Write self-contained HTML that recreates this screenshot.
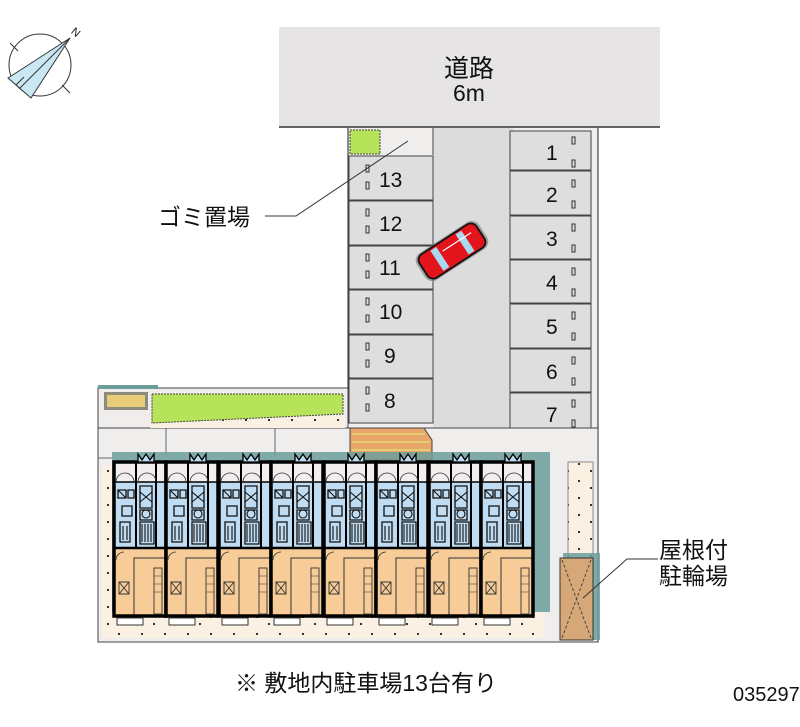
<!DOCTYPE html>
<html><head><meta charset="utf-8"><style>
html,body{margin:0;padding:0;background:#fff;width:800px;height:727px;overflow:hidden}
text{font-family:"Liberation Sans","Noto Sans CJK JP",sans-serif;fill:#111}
</style></head><body>
<svg width="800" height="727" viewBox="0 0 800 727" xmlns="http://www.w3.org/2000/svg">
<defs>
<g id="unit">
  <rect x="0" y="0" width="52" height="20" fill="#f2eeee"/>
  <rect x="0" y="20" width="52" height="66" fill="#bfdcf2"/>
  <rect x="0" y="86" width="52" height="68" fill="#f7cc98"/>
  <rect x="20" y="96" width="32" height="58" fill="#f7cc98" stroke="#333" stroke-width="1"/>
  <rect x="0" y="0" width="52" height="154" fill="none" stroke="#000" stroke-width="3.5"/>
  <rect x="22" y="0" width="20" height="86" fill="none" stroke="#000" stroke-width="2"/>
  <line x1="0" y1="20" x2="52" y2="20" stroke="#000" stroke-width="1.5"/>
  <line x1="0" y1="86" x2="52" y2="86" stroke="#000" stroke-width="2.5"/>
  <path d="M2 20 A9 9 0 0 1 20 20 M24 20 A9 9 0 0 1 42 20" fill="none" stroke="#333" stroke-width="0.8"/>
  <path d="M4 28h8v8h-8zM14 28h6v8h-6zM26 24h12v22h-12zM8 44h10v10h-10zM26 48h12v10h-12zM26 60h14v22h-14zM6 60h10v20h-10z" fill="none" stroke="#111" stroke-width="1.3"/>
  <path d="M28 62v18M31 62v18M34 62v18M37 62v18M26 30l12 10M26 40l12-10M4 28l8 8M9 64v14M13 64v14" stroke="#111" stroke-width="1.1"/>
  <circle cx="32" cy="52" r="4" fill="none" stroke="#111" stroke-width="1.1"/>
  <path d="M5 120h10v12h-10z M5 120l10 12 M5 132l10-12" fill="none" stroke="#333" stroke-width="0.9"/>
  <path d="M2 98 A8 8 0 0 1 10 90" fill="none" stroke="#333" stroke-width="0.8"/>
  <rect x="40" y="106" width="8" height="46" fill="none" stroke="#333" stroke-width="0.9"/>
  <path d="M40 114h8M40 122h8M40 130h8" stroke="#333" stroke-width="0.6"/>
  <rect x="3" y="156" width="26" height="7" fill="#fff" stroke="#333" stroke-width="1"/>
  <path d="M24 -8l4 6 4-6 4 6 4-6v8h-16z" fill="#bfdcf2" stroke="#000" stroke-width="1.3"/>
</g>
<pattern id="dots" width="23" height="17" patternUnits="userSpaceOnUse">
  <rect width="23" height="17" fill="#fbf1e2"/>
  <rect x="3" y="4" width="2" height="2" fill="#333"/><rect x="15" y="11" width="2" height="2" fill="#333"/>
</pattern>
</defs>

<!-- compass -->
<circle cx="40" cy="65" r="31" fill="none" stroke="#333" stroke-width="1"/>
<polygon points="70,38 8,78 31,98" fill="#c9e8f4" stroke="#333" stroke-width="1"/>
<line x1="70" y1="38" x2="20" y2="88" stroke="#333" stroke-width="1"/>
<path d="M10 43l8 8M62 85l8 8M16 85l8-8" stroke="#333" stroke-width="1"/>
<text x="72" y="36" font-size="11" transform="rotate(40 76 32)">N</text>

<!-- road -->
<rect x="279" y="27" width="381" height="100" fill="#e7e4e6"/>
<line x1="279" y1="127" x2="660" y2="127" stroke="#333" stroke-width="1.5"/>
<text x="469" y="77" font-size="25" text-anchor="middle">道路</text>
<text x="469" y="101" font-size="23" text-anchor="middle">6m</text>

<!-- lot -->
<rect x="348" y="128" width="250" height="300" fill="#f0eded"/>
<rect x="433" y="128" width="80" height="305" fill="#dcdcdc"/>
<line x1="348" y1="128" x2="348" y2="390" stroke="#444" stroke-width="1.2"/>
<line x1="598" y1="128" x2="598" y2="642" stroke="#444" stroke-width="1.2"/>
<rect x="350" y="130" width="30" height="24" fill="#b6e35a" stroke="#444" stroke-dasharray="2 1"/>
<line x1="433" y1="128" x2="433" y2="155" stroke="#444"/>

<!-- left stalls -->
<g fill="#dedede" stroke="#444" stroke-width="1">
<rect x="349" y="156" width="84" height="44"/><rect x="349" y="201" width="84" height="44"/>
<rect x="349" y="246" width="84" height="43"/><rect x="349" y="290" width="84" height="44"/>
<rect x="349" y="335" width="84" height="43"/><rect x="349" y="379" width="84" height="44"/>
</g>
<g font-size="21">
<text x="379" y="187">13</text><text x="379" y="231">12</text><text x="379" y="275">11</text>
<text x="379" y="319">10</text><text x="384" y="363">9</text><text x="384" y="408">8</text>
</g>
<g fill="none" stroke="#333" stroke-width="1">
<rect x="366" y="165" width="3" height="7"/><rect x="366" y="182" width="3" height="7"/>
<rect x="366" y="209" width="3" height="7"/><rect x="366" y="226" width="3" height="7"/>
<rect x="366" y="254" width="3" height="7"/><rect x="366" y="271" width="3" height="7"/>
<rect x="366" y="298" width="3" height="7"/><rect x="366" y="315" width="3" height="7"/>
<rect x="366" y="343" width="3" height="7"/><rect x="366" y="360" width="3" height="7"/>
<rect x="366" y="387" width="3" height="7"/><rect x="366" y="404" width="3" height="7"/>
</g>

<!-- right stalls -->
<g fill="#dedede" stroke="#444" stroke-width="1">
<rect x="510" y="131" width="81" height="39"/><rect x="510" y="171" width="81" height="44"/>
<rect x="510" y="216" width="81" height="43"/><rect x="510" y="260" width="81" height="43"/>
<rect x="510" y="304" width="81" height="44"/><rect x="510" y="349" width="81" height="43"/>
<rect x="510" y="393" width="81" height="40"/>
</g>
<g font-size="21">
<text x="546" y="160">1</text><text x="546" y="202">2</text><text x="546" y="246">3</text>
<text x="546" y="290">4</text><text x="546" y="334">5</text><text x="546" y="379">6</text><text x="546" y="422">7</text>
</g>
<g fill="none" stroke="#333" stroke-width="1">
<rect x="572" y="137" width="3" height="7"/><rect x="572" y="160" width="3" height="7"/>
<rect x="572" y="180" width="3" height="7"/><rect x="572" y="201" width="3" height="7"/>
<rect x="572" y="224" width="3" height="7"/><rect x="572" y="245" width="3" height="7"/>
<rect x="572" y="268" width="3" height="7"/><rect x="572" y="289" width="3" height="7"/>
<rect x="572" y="312" width="3" height="7"/><rect x="572" y="333" width="3" height="7"/>
<rect x="572" y="357" width="3" height="7"/><rect x="572" y="378" width="3" height="7"/>
<rect x="572" y="400" width="3" height="7"/><rect x="572" y="420" width="3" height="7"/>
</g>

<!-- car -->
<g transform="translate(452 251) rotate(-33)">
<rect x="-37" y="-16" width="74" height="32" rx="9" fill="#777" opacity="0.6"/>
<rect x="-34" y="-14" width="68" height="28" rx="7" fill="#e3141b" stroke="#111" stroke-width="1.8"/>
<rect x="-18" y="-12" width="7" height="24" fill="#a9d9ee"/>
<rect x="12" y="-12" width="7" height="24" fill="#a9d9ee"/>
<line x1="-8" y1="-5" x2="26" y2="-5" stroke="#fff" stroke-width="1.2"/>
</g>

<!-- lower site -->
<rect x="98" y="388" width="250" height="40" fill="#f0eded" stroke="#444" stroke-width="1"/>
<rect x="98" y="428" width="500" height="214" fill="#f0eded" stroke="#444" stroke-width="1"/>
<rect x="98" y="385" width="60" height="4" fill="#6b9e9a"/>
<rect x="102" y="466" width="10" height="172" fill="url(#dots)"/>
<rect x="102" y="612" width="442" height="26" fill="url(#dots)"/>
<rect x="568" y="462" width="25" height="96" fill="url(#dots)" stroke="#888"/>
<rect x="150" y="416" width="195" height="12" fill="url(#dots)"/>
<path d="M152 394 L343 394 L343 414 L152 423 Z" fill="#b6e35a" stroke="#444" stroke-dasharray="2 1"/>
<rect x="104" y="392" width="44" height="18" fill="#8d8a80"/>
<rect x="107" y="395" width="38" height="12" fill="#e8cc7a"/>
<line x1="166" y1="428" x2="166" y2="455" stroke="#666"/>
<line x1="275" y1="428" x2="275" y2="455" stroke="#666"/>
<line x1="98" y1="458" x2="112" y2="458" stroke="#666"/>
<!-- brick -->
<path d="M350 428 L424 428 L432 440 L432 460 L350 460 Z" fill="#e8a66a" stroke="#444"/>
<g stroke="#e2cd73" stroke-width="2"><line x1="352" y1="434" x2="425" y2="434"/><line x1="352" y1="442" x2="430" y2="442"/><line x1="352" y1="450" x2="430" y2="450"/></g>

<!-- building shadow -->
<rect x="112" y="452" width="438" height="160" fill="#6b9e9a" opacity="0.85"/>
<g>
<use href="#unit" x="114" y="462"/><use href="#unit" x="166" y="462"/>
<use href="#unit" x="219" y="462"/><use href="#unit" x="271" y="462"/>
<use href="#unit" x="324" y="462"/><use href="#unit" x="376" y="462"/>
<use href="#unit" x="429" y="462"/><use href="#unit" x="481" y="462"/>
</g>

<!-- bicycle shelter -->
<rect x="563" y="553" width="37" height="87" fill="#6b9e9a" opacity="0.85"/>
<rect x="560" y="558" width="33" height="82" fill="#d7a877" stroke="#333"/>
<path d="M562 560 L591 638 M591 560 L562 638" stroke="#444" stroke-dasharray="3 2"/>

<!-- labels -->
<text x="158" y="225" font-size="23">ゴミ置場</text>
<polyline points="265,216 296,216 408,141" fill="none" stroke="#333" stroke-width="1"/>
<text x="659" y="558" font-size="23">屋根付</text>
<text x="659" y="584" font-size="23">駐輪場</text>
<polyline points="583,598 627,559 658,559" fill="none" stroke="#333" stroke-width="1"/>
<text x="235" y="691" font-size="23">※ 敷地内駐車場13台有り</text>
<text x="733" y="701" font-size="20">035297</text>
</svg>
</body></html>
